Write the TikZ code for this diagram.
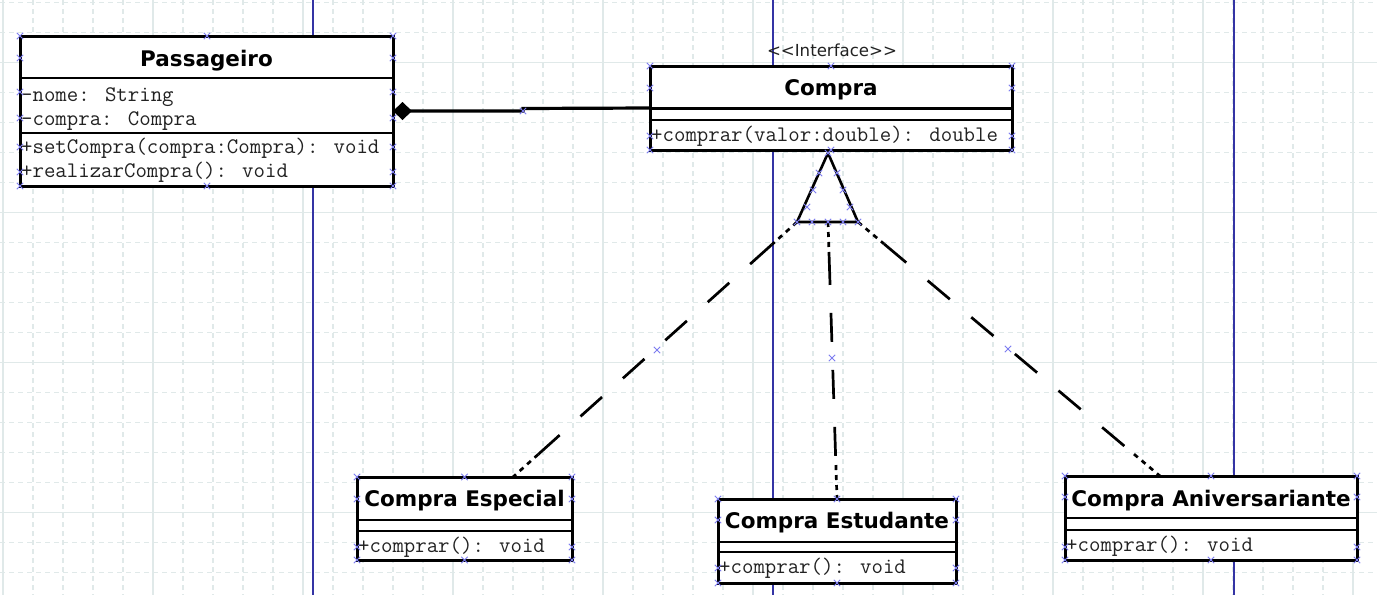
\documentclass[tikz,border=0pt]{standalone}
\usepackage{fontspec}
\setmainfont{DejaVu Sans}
\usetikzlibrary{calc,arrows.meta}
\definecolor{gridc}{HTML}{E0E9E9}
\definecolor{lanec}{HTML}{3434A4}
\definecolor{markc}{HTML}{7C7CF0}
\definecolor{txtc}{HTML}{222222}
\newcommand\mk[1]{\draw[mkstyle,shift={(#1)}] (-3.2,-3.2) -- (3.2,3.2) (-3.2,3.2) -- (3.2,-3.2);}
\newcommand\realline[2]{%
  \draw[realdot] (#1) -- ($(#1)!34pt!(#2)$);
  \draw[realdash] ($(#1)!34pt!(#2)$) -- ($(#2)!34pt!(#1)$);
  \draw[realdot] ($(#2)!34pt!(#1)$) -- (#2);}
\begin{document}
\begin{tikzpicture}[x=1pt,y=-1pt,
  gridminor/.style={gridc,line width=1.1pt,dash pattern=on 5pt off 4pt},
  gridmajor/.style={gridc,line width=1.3pt},
  lane/.style={lanec,line width=1.6pt},
  classbox/.style={draw=black,fill=white,line width=3pt,inner sep=0pt,outer sep=0pt},
  sepl/.style={line width=2.6pt},
  cname/.style={font=\fontsize{21.5}{25}\selectfont\bfseries,inner sep=0pt,anchor=base,text=black},
  member/.style={font=\fontsize{22.2}{24}\selectfont\ttfamily,inner sep=0pt,anchor=base west,text=txtc},
  stereo/.style={font=\fontsize{16.6}{20}\selectfont,inner sep=0pt,anchor=base,text=txtc},
  realdash/.style={line width=2.7pt,dash pattern=on 29pt off 28pt},
  realdot/.style={line width=2.7pt,dash pattern=on 5pt off 5pt},
  assoc/.style={line width=3.2pt},
  tri/.style={draw=black,fill=white,line width=2.6pt,line join=miter},
  mkstyle/.style={markc,line width=1pt}]
\useasboundingbox (0,0) rectangle (1377,595);
\fill[white] (0,0) rectangle (1377,595);
% grid
\foreach \x in {3,33,...,1376} \draw[gridminor] (\x,0) -- (\x,595);
\foreach \y in {2.7,32.7,...,594} \draw[gridminor] (0,\y) -- (1377,\y);
\foreach \x in {3,153,...,1376} \draw[gridmajor] (\x,0) -- (\x,595);
\foreach \y in {62.7,212.7,...,594} \draw[gridmajor] (0,\y) -- (1377,\y);
% lanes
\foreach \x in {313,773,1234} \draw[lane] (\x,0) -- (\x,595);

% class boxes
\node[classbox,minimum width=373pt,minimum height=150pt] (pass) at (206.5,111) {};
\node[classbox,minimum width=362pt,minimum height=84pt] (compra) at (831,108) {};
\node[classbox,minimum width=215pt,minimum height=83pt] (esp) at (464.5,518.5) {};
\node[classbox,minimum width=238pt,minimum height=84pt] (est) at (837,541) {};
\node[classbox,minimum width=292pt,minimum height=84pt] (aniv) at (1211,518) {};

% connector end points
\coordinate (tA) at ([yshift=-3pt]compra.south -| 828,0);
\coordinate (tL) at (797,222);
\coordinate (tM) at (828,222);
\coordinate (tR) at (858,222);
\coordinate (espTop) at ([xshift=48.5pt]esp.north);
\coordinate (anivTop) at ([xshift=-51pt]aniv.north);

% realization lines
\realline{tL}{espTop}
\realline{tM}{est.north}
\realline{tR}{anivTop}
\draw[tri] (tA) -- (tL) -- (tR) -- cycle;

% composition
\draw[assoc,{Diamond[length=19pt,width=18pt,fill=black]}-] (pass.east) -- (523,111) -- (523,108.5) -- (compra.west);

% redraw boxes on top of connector ends
\node[classbox,minimum width=373pt,minimum height=150pt] at (pass) {};
\node[classbox,minimum width=362pt,minimum height=84pt] at (compra) {};
\node[classbox,minimum width=215pt,minimum height=83pt] at (esp) {};
\node[classbox,minimum width=238pt,minimum height=84pt] at (est) {};
\node[classbox,minimum width=292pt,minimum height=84pt] at (aniv) {};

% separators
\draw[sepl] ($(pass.north west)+(0,42)$) -- ($(pass.north east)+(0,42)$);
\draw[sepl] ($(pass.north west)+(0,97)$) -- ($(pass.north east)+(0,97)$);
\draw[sepl] ($(compra.north west)+(0,42.5)$) -- ($(compra.north east)+(0,42.5)$);
\draw[sepl] ($(compra.north west)+(0,54)$) -- ($(compra.north east)+(0,54)$);
\draw[sepl] ($(esp.north west)+(0,43)$) -- ($(esp.north east)+(0,43)$);
\draw[sepl] ($(esp.north west)+(0,54)$) -- ($(esp.north east)+(0,54)$);
\draw[sepl] ($(est.north west)+(0,43)$) -- ($(est.north east)+(0,43)$);
\draw[sepl] ($(est.north west)+(0,53)$) -- ($(est.north east)+(0,53)$);
\draw[sepl] ($(aniv.north west)+(0,42)$) -- ($(aniv.north east)+(0,42)$);
\draw[sepl] ($(aniv.north west)+(0,54)$) -- ($(aniv.north east)+(0,54)$);

% texts
\node[cname] (passN) at (206.5,66.5) {Passageiro};
\node[member] (passA1) at (21,101) {-nome: String};
\node[member] (passA2) at (21,125.5) {-compra: Compra};
\node[member] (passM1) at (21,153.3) {+setCompra(compra:Compra): void};
\node[member] (passM2) at (21,177.7) {+realizarCompra(): void};

\node[stereo] (compraS) at (832,56) {{<}{<}Interface{>}{>}};
\node[cname] (compraN) at (831,95.5) {Compra};
\node[member] (compraM) at (651,141) {+comprar(valor:double): double};

\node[cname] (espN) at (464.5,506.5) {Compra Especial};
\node[member] (espM) at (358,552.7) {+comprar(): void};
\node[cname] (estN) at (837,528) {Compra Estudante};
\node[member] (estM) at (719,573.3) {+comprar(): void};
\node[cname] (anivN) at (1211,506) {Compra Aniversariante};
\node[member] (anivM) at (1066,551.7) {+comprar(): void};

% selection markers
\foreach \y in {36,58,92,118,147,172,186} {\mk{20,\y}\mk{393,\y}}
\mk{207,36}\mk{207,186}
\foreach \y in {66,88,136,150} {\mk{650,\y}\mk{1012,\y}}
\mk{831,66}\mk{831,150}
\foreach \y in {477,499,547,560} {\mk{357,\y}\mk{572,\y}}
\mk{464.5,477}\mk{464.5,560}
\foreach \y in {499,520,568,583} {\mk{718,\y}\mk{956,\y}}
\mk{837,499}\mk{837,583}
\foreach \y in {476,497,547,560} {\mk{1065,\y}\mk{1357,\y}}
\mk{1211,476}\mk{1211,560}
\mk{523,111}\mk{657,350}\mk{832,358}\mk{1008,349}
\mk{828,153}\mk{819,173}\mk{813,190}\mk{807,207}\mk{797,222}
\mk{812,222}\mk{828,222}\mk{843,222}\mk{858,222}
\mk{837,173}\mk{843,190}\mk{850,207}
\end{tikzpicture}
\end{document}
